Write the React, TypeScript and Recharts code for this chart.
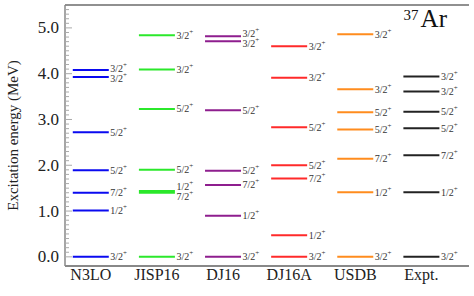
import React from "react";
import { ComposedChart, Scatter, XAxis, YAxis, ReferenceLine } from "recharts";

// level schemes for 37Ar, energies in MeV
const models = ["N3LO", "JISP16", "DJ16", "DJ16A", "USDB", "Expt."];
const modelColors = ["#0a0af0", "#2be82b", "#8e1e8e", "#ff2a2a", "#ff8c1e", "#222222"];

const n3loEnergy = [0, 1.01, 1.4, 1.89, 2.72, 3.93, 4.08];
const n3loSpin = ["3/2", "1/2", "7/2", "5/2", "5/2", "3/2", "3/2"];

const jisp16Energy = [0, 1.4, 1.44, 1.9, 3.23, 4.09, 4.84];
const jisp16Spin = ["3/2", "7/2", "1/2", "5/2", "5/2", "3/2", "3/2"];

const dj16Energy = [0, 0.9, 1.57, 1.88, 3.2, 4.71, 4.82];
const dj16Spin = ["3/2", "1/2", "7/2", "5/2", "5/2", "3/2", "3/2"];

const dj16aEnergy = [0, 0.47, 1.71, 2.0, 2.83, 3.91, 4.6];
const dj16aSpin = ["3/2", "1/2", "7/2", "5/2", "5/2", "3/2", "3/2"];

const usdbEnergy = [0, 1.41, 2.14, 2.78, 3.16, 3.66, 4.86];
const usdbSpin = ["3/2", "1/2", "7/2", "5/2", "5/2", "3/2", "3/2"];

const exptEnergy = [0, 1.41, 2.22, 2.81, 3.17, 3.61, 3.94];
const exptSpin = ["3/2", "1/2", "7/2", "5/2", "5/2", "3/2", "3/2"];

const yMajorTicks = [0, 1, 2, 3, 4, 5];

const allEnergies = [n3loEnergy, jisp16Energy, dj16Energy, dj16aEnergy, usdbEnergy, exptEnergy];
const allSpins = [n3loSpin, jisp16Spin, dj16Spin, dj16aSpin, usdbSpin, exptSpin];

const WIDTH = 474;
const HEIGHT = 296;
const MARGIN = { top: 5, right: 5, bottom: 0, left: 0 };
const Y_AXIS_W = 65;
const X_AXIS_H = 30;
const Y_DOMAIN: [number, number] = [-0.2, 5.5];
const X_DOMAIN: [number, number] = [-0.39, 5.72];
const PLOT_H = HEIGHT - MARGIN.top - MARGIN.bottom - X_AXIS_H;
const PX_PER_MEV = PLOT_H / (Y_DOMAIN[1] - Y_DOMAIN[0]);
const LABEL_GAP = 10;
const HALF_LEVEL = 18;
const FONT = "'Liberation Serif', 'DejaVu Serif', serif";

// minor ticks every 0.1 MeV
const yMinorTicks: number[] = [];
for (let i = 0; i <= 54; i++) yMinorTicks.push(i / 10);

// spread labels of nearly degenerate levels apart (pixel shifts)
function labelShifts(energies: number[]): number[] {
    const order = energies.map((_, i) => i).sort((a, b) => energies[a] - energies[b]);
    const pos = energies.map((e) => -e * PX_PER_MEV);
    const shifts = energies.map(() => 0);
    let group: number[] = [];
    const flush = () => {
        if (group.length > 1) {
            const mean = group.reduce((s, k) => s + pos[k], 0) / group.length;
            group.forEach((k, j) => {
                const target = mean + ((group.length - 1) / 2 - j) * LABEL_GAP;
                shifts[k] = target - pos[k];
            });
        }
        group = [];
    };
    order.forEach((k) => {
        if (group.length && (energies[k] - energies[group[group.length - 1]]) * PX_PER_MEV >= LABEL_GAP) flush();
        group.push(k);
    });
    flush();
    return shifts;
}

const seriesData = allEnergies.map((energies, m) => {
    const shifts = labelShifts(energies);
    return energies.map((e, i) => ({ x: m, y: e, spin: allSpins[m][i], shift: shifts[i] }));
});

const LevelShape = (props: any) => {
    const { cx, cy, payload, fill } = props;
    if (cx == null || cy == null) return null;
    return (
        <g>
            <line x1={cx - HALF_LEVEL} x2={cx + HALF_LEVEL} y1={cy} y2={cy} stroke={fill} strokeWidth={2} />
            <text
                x={cx + HALF_LEVEL + 1.5}
                y={cy + payload.shift}
                dominantBaseline="central"
                style={{ fontSize: 10, fontFamily: FONT }}
                fill="#333"
            >
                {payload.spin}
                <tspan dy={-3.5} style={{ fontSize: 7 }}>
                    +
                </tspan>
            </text>
        </g>
    );
};

const XTick = (props: any) => {
    const { x, y, payload } = props;
    return (
        <text x={x} y={y} dy={12} textAnchor="middle" style={{ fontSize: 16, fontFamily: FONT }} fill="#222">
            {models[payload.value]}
        </text>
    );
};

const YTick = (props: any) => {
    const { x, y, payload } = props;
    const axisX = x + 6;
    const v = payload.value;
    const major = yMajorTicks.some((t) => Math.abs(t - v) < 1e-6);
    return (
        <g>
            <line x1={axisX} x2={axisX + (major ? 7 : 4)} y1={y} y2={y} stroke="#aaa" strokeWidth={1} />
            {major && (
                <text x={axisX - 6} y={y} textAnchor="end" dominantBaseline="central" style={{ fontSize: 17, fontFamily: FONT }} fill="#222">
                    {v.toFixed(1)}
                </text>
            )}
        </g>
    );
};

export default function App() {
    return (
        <div style={{ position: "relative", width: WIDTH, height: HEIGHT, background: "#fff" }}>
            <style>{`body{margin:0}`}</style>
            <ComposedChart width={WIDTH} height={HEIGHT} margin={MARGIN}>
                <XAxis
                    xAxisId="bottom"
                    type="number"
                    dataKey="x"
                    domain={X_DOMAIN}
                    allowDataOverflow
                    ticks={[0, 1, 2, 3, 4, 5]}
                    interval={0}
                    height={X_AXIS_H}
                    tickLine={false}
                    tickSize={0}
                    tickMargin={2}
                    axisLine={{ stroke: "#888", strokeWidth: 2 }}
                    tick={<XTick />}
                />
                <YAxis
                    yAxisId="left"
                    type="number"
                    dataKey="y"
                    domain={Y_DOMAIN}
                    allowDataOverflow
                    ticks={yMinorTicks}
                    interval={0}
                    width={Y_AXIS_W}
                    tickSize={0}
                    tickMargin={6}
                    tickLine={false}
                    axisLine={{ stroke: "#888", strokeWidth: 1.5 }}
                    tick={<YTick />}
                    label={{
                        value: "Excitation energy (MeV)",
                        angle: -90,
                        position: "insideLeft",
                        offset: 13,
                        style: { textAnchor: "middle", fontSize: 15, fontFamily: FONT, fill: "#222" },
                    }}
                />
                <YAxis yAxisId="right" orientation="right" type="number" domain={Y_DOMAIN} allowDataOverflow width={0} tick={false} tickLine={false} axisLine={{ stroke: "#888", strokeWidth: 1.5 }} />
                <ReferenceLine xAxisId="bottom" yAxisId="left" y={Y_DOMAIN[1]} stroke="#222" strokeWidth={1.2} ifOverflow="visible" />
                {seriesData.map((data, m) => (
                    <Scatter
                        key={models[m]}
                        name={models[m]}
                        data={data}
                        xAxisId="bottom"
                        yAxisId="left"
                        fill={modelColors[m]}
                        shape={<LevelShape />}
                        isAnimationActive={false}
                    />
                ))}
            </ComposedChart>
            <div style={{ position: "absolute", right: 27, top: 5, fontFamily: FONT, color: "#111", whiteSpace: "nowrap" }}>
                <span style={{ fontSize: 15, verticalAlign: "top", position: "relative", top: 2 }}>37</span>
                <span style={{ fontSize: 25, marginLeft: 2 }}>Ar</span>
            </div>
        </div>
    );
}
